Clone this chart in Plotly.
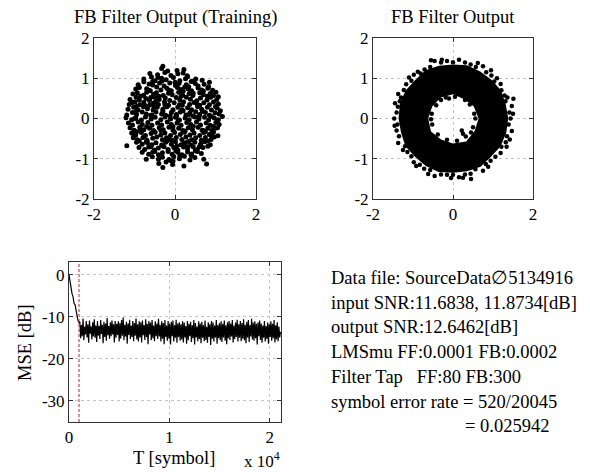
import plotly.graph_objects as go

W, H = 590, 472

# ---------------- data ----------------
# Training constellation
TRAIN_POINTS = [
    (-0.30, 1.30), (0.22, 1.22), (-0.18, 1.18), (-0.33, 1.24), (0.05, 1.19),
    (-0.62, 1.12), (-0.43, 1.09), (-0.25, 1.14), (-0.10, 1.07), (0.07, 1.11), (0.20, 1.13), (0.31, 1.04),
    (-0.77, 0.98), (-0.58, 1.03), (-0.49, 0.94), (-0.33, 1.00), (-0.22, 0.96), (-0.04, 1.02), (0.12, 0.94),
    (0.26, 0.99), (0.40, 0.92), (0.51, 0.98), (0.67, 0.95), (0.85, 0.90),
    (-0.91, 0.84), (-0.77, 0.91), (-0.64, 0.86), (-0.55, 0.83), (-0.38, 0.88), (-0.27, 0.81), (-0.13, 0.88),
    (0.01, 0.82), (0.10, 0.87), (0.28, 0.84), (0.34, 0.79), (0.50, 0.87), (0.57, 0.81), (0.72, 0.85), (0.83, 0.79),
    (-0.97, 0.73), (-0.88, 0.77), (-0.70, 0.74), (-0.61, 0.69), (-0.45, 0.78), (-0.35, 0.71), (-0.20, 0.75),
    (-0.09, 0.69), (0.06, 0.77), (0.15, 0.72), (0.32, 0.74), (0.41, 0.69), (0.57, 0.76), (0.66, 0.71),
    (0.81, 0.75), (0.93, 0.70), (1.01, 0.65),
    (-1.04, 0.61), (-0.93, 0.64), (-0.78, 0.58), (-0.70, 0.65), (-0.53, 0.60), (-0.46, 0.64), (-0.29, 0.57),
    (-0.16, 0.63), (-0.07, 0.59), (0.09, 0.65), (0.19, 0.58), (0.35, 0.62), (0.44, 0.57), (0.61, 0.64),
    (0.70, 0.59), (0.87, 0.62), (0.95, 0.57), (1.07, 0.54),
    (-1.11, 0.47), (-0.96, 0.53), (-0.88, 0.46), (-0.72, 0.50), (-0.63, 0.45), (-0.49, 0.53), (-0.39, 0.47),
    (-0.24, 0.51), (-0.13, 0.45), (0.03, 0.52), (0.12, 0.46), (0.28, 0.53), (0.38, 0.48), (0.54, 0.44),
    (0.63, 0.51), (0.79, 0.46), (0.88, 0.53), (1.03, 0.47),
    (-1.13, 0.35), (-0.99, 0.41), (-0.87, 0.34), (-0.77, 0.40), (-0.63, 0.33), (-0.53, 0.38), (-0.41, 0.35),
    (-0.26, 0.41), (-0.16, 0.33), (-0.02, 0.39), (0.11, 0.34), (0.21, 0.41), (0.36, 0.35), (0.47, 0.40),
    (0.61, 0.33), (0.71, 0.39), (0.85, 0.34), (0.95, 0.41), (1.07, 0.36),
    (-1.16, 0.23), (-1.02, 0.28), (-0.91, 0.21), (-0.78, 0.29), (-0.68, 0.24), (-0.54, 0.21), (-0.44, 0.28),
    (-0.30, 0.23), (-0.20, 0.29), (-0.05, 0.22), (0.07, 0.28), (0.17, 0.21), (0.31, 0.27), (0.41, 0.22),
    (0.56, 0.29), (0.66, 0.23), (0.80, 0.28), (0.90, 0.21), (1.04, 0.26), (1.12, 0.19),
    (-1.19, 0.09), (-1.05, 0.15), (-0.95, 0.10), (-0.81, 0.16), (-0.71, 0.11), (-0.57, 0.09), (-0.47, 0.16),
    (-0.33, 0.11), (-0.23, 0.08), (-0.09, 0.15), (0.03, 0.10), (0.13, 0.16), (0.27, 0.09), (0.37, 0.14),
    (0.51, 0.17), (0.61, 0.10), (0.75, 0.15), (0.85, 0.08), (0.99, 0.14), (1.09, 0.11),
    (-1.21, 0.02), (-1.07, -0.03), (-0.97, 0.01), (-0.83, -0.04), (-0.73, 0.04), (-0.59, -0.01), (-0.49, 0.03),
    (-0.35, -0.03), (-0.25, 0.04), (-0.11, -0.01), (0.01, 0.03), (0.11, -0.04), (0.25, 0.01), (0.35, -0.03),
    (0.49, 0.04), (0.59, -0.01), (0.73, 0.03), (0.83, -0.04), (0.97, 0.01), (1.07, -0.03), (1.17, 0.05),
    (-1.15, -0.11), (-1.05, -0.16), (-0.91, -0.09), (-0.81, -0.15), (-0.67, -0.10), (-0.57, -0.17), (-0.43, -0.11),
    (-0.33, -0.16), (-0.19, -0.09), (-0.09, -0.15), (0.05, -0.11), (0.15, -0.17), (0.29, -0.10), (0.39, -0.15),
    (0.53, -0.09), (0.63, -0.16), (0.77, -0.11), (0.87, -0.17), (1.01, -0.10), (1.09, -0.15),
    (-1.11, -0.23), (-1.01, -0.29), (-0.87, -0.22), (-0.77, -0.28), (-0.63, -0.24), (-0.53, -0.30), (-0.39, -0.23),
    (-0.29, -0.28), (-0.15, -0.22), (-0.05, -0.29), (0.09, -0.24), (0.19, -0.30), (0.33, -0.23), (0.43, -0.28),
    (0.57, -0.22), (0.67, -0.29), (0.81, -0.24), (0.91, -0.30), (1.05, -0.23),
    (-1.07, -0.36), (-0.97, -0.41), (-0.83, -0.35), (-0.73, -0.42), (-0.59, -0.37), (-0.49, -0.34), (-0.35, -0.41),
    (-0.25, -0.36), (-0.11, -0.42), (-0.01, -0.35), (0.13, -0.40), (0.23, -0.34), (0.37, -0.41), (0.47, -0.36),
    (0.61, -0.42), (0.71, -0.35), (0.85, -0.40), (0.95, -0.34), (1.06, -0.43),
    (-1.03, -0.48), (-0.93, -0.53), (-0.79, -0.47), (-0.69, -0.54), (-0.55, -0.49), (-0.45, -0.46), (-0.31, -0.53),
    (-0.21, -0.48), (-0.07, -0.54), (0.03, -0.47), (0.17, -0.52), (0.27, -0.46), (0.41, -0.53), (0.51, -0.48),
    (0.65, -0.54), (0.75, -0.47), (0.89, -0.52), (0.97, -0.46),
    (-1.19, -0.68), (-0.95, -0.59), (-0.81, -0.64), (-0.71, -0.58), (-0.57, -0.65), (-0.47, -0.60), (-0.33, -0.66),
    (-0.23, -0.59), (-0.09, -0.64), (0.01, -0.58), (0.15, -0.65), (0.25, -0.60), (0.39, -0.66), (0.49, -0.59),
    (0.63, -0.64), (0.73, -0.58), (0.87, -0.65),
    (-0.89, -0.72), (-0.75, -0.77), (-0.65, -0.71), (-0.51, -0.78), (-0.41, -0.73), (-0.27, -0.70), (-0.17, -0.77),
    (-0.03, -0.72), (0.07, -0.78), (0.21, -0.71), (0.31, -0.76), (0.45, -0.70), (0.55, -0.77), (0.69, -0.72),
    (0.81, -0.69),
    (-0.81, -0.84), (-0.65, -0.89), (-0.55, -0.83), (-0.41, -0.90), (-0.31, -0.85), (-0.17, -0.82), (-0.07, -0.89),
    (0.07, -0.84), (0.17, -0.90), (0.31, -0.83), (0.41, -0.88), (0.55, -0.82), (0.65, -0.87),
    (-0.71, -1.01), (-0.56, -0.95), (-0.41, -1.01), (-0.31, -0.96), (-0.15, -1.02), (-0.03, -0.95), (0.11, -1.00),
    (0.23, -0.94), (0.37, -1.03), (0.49, -0.97), (0.71, -1.01),
    (-0.40, -1.12), (-0.22, -1.08), (-0.05, -1.06), (0.22, -1.18), (0.78, -1.13), (-0.30, -1.22), (-0.06, -1.14),
    (0.12, -0.93), (-0.52, 0.30), (0.04, 0.06), (0.08, -0.05), (-0.12, 0.06), (0.31, -0.70), (0.22, -0.63),
    (-0.48, 0.42), (-0.60, 0.52), (0.45, 0.63), (0.60, 0.06), (-0.86, -0.26), (0.90, -0.43), (-0.32, 0.93),
    (0.24, 0.78), (-0.68, -0.60), (0.35, 0.10), (-0.15, -0.52), (0.70, -0.30), (-0.95, 0.30),
    (-0.85, 0.55), (-0.40, 0.55), (0.15, 0.55), (0.80, 0.55), (-0.95, 0.20), (-0.30, 0.18), (0.20, 0.19),
    (0.68, 0.18), (-0.70, -0.20), (-0.05, -0.20), (0.45, -0.19), (0.95, -0.20), (-0.88, -0.55), (-0.20, -0.56),
    (0.33, -0.57), (0.80, -0.56), (-0.55, 0.92), (0.00, 0.90), (0.45, 0.92), (-0.50, -0.82), (0.02, -0.80),
    (0.50, -0.80), (-1.00, 0.00), (0.90, 0.05), (-0.60, 0.08), (0.45, 0.06), (-0.75, 0.33), (0.55, 0.34),
    (-0.25, 0.34), (0.18, 0.33), (-0.35, -0.30), (0.25, -0.31), (-0.95, -0.33), (0.75, -0.33), (-0.65, 0.70),
    (0.20, 0.68), (0.70, 0.68), (-0.15, 0.70), (-0.60, -0.70), (0.05, -0.68), (0.60, -0.70), (-0.30, -0.68),
    (-1.05, 0.40), (1.00, 0.30), (-1.02, -0.40), (0.98, -0.25), (-0.42, 1.02), (0.30, 1.06), (-0.10, -1.05),
    (0.40, -0.92),
]
TRAIN_X = [p[0] for p in TRAIN_POINTS]
TRAIN_Y = [p[1] for p in TRAIN_POINTS]

# Output constellation: outline of the solid ring (outer edge, then the hole edge)
RING_OUTER_X = [1.38, 1.32, 1.20, 0.96, 0.68, 0.35, 0.00, -0.35, -0.69, -0.95, -1.19, -1.33,
                -1.36, -1.30, -1.19, -0.95, -0.68, -0.36, 0.00, 0.35, 0.69, 0.95, 1.19, 1.33, 1.38]
RING_OUTER_Y = [0.00, 0.35, 0.70, 0.96, 1.17, 1.32, 1.34, 1.31, 1.20, 0.95, 0.69, 0.36,
                0.00, -0.35, -0.69, -0.95, -1.18, -1.33, -1.35, -1.31, -1.20, -0.95, -0.69, -0.36, 0.00]
RING_INNER_X = [0.64, 0.54, 0.33, 0.00, -0.30, -0.55, -0.62, -0.52, -0.30, 0.00, 0.28, 0.52, 0.64]
RING_INNER_Y = [0.00, -0.31, -0.57, -0.62, -0.52, -0.32, 0.00, 0.30, 0.52, 0.60, 0.48, 0.30, 0.00]

# scattered points along the fuzzy edges of the ring
EDGE_POINTS = [
    (1.44, 0.00), (1.47, 0.31), (1.29, 0.57), (1.19, 0.86), (0.96, 1.07), (0.75, 1.30), (0.44, 1.34),
    (0.15, 1.46), (-0.15, 1.43), (-0.46, 1.43), (-0.71, 1.22), (-0.98, 1.09), (-1.17, 0.85), (-1.37, 0.61),
    (-1.38, 0.29), (-1.47, 0.00), (-1.41, -0.30), (-1.37, -0.61), (-1.14, -0.83), (-0.98, -1.09),
    (-0.72, -1.25), (-0.46, -1.43), (-0.15, -1.40), (0.15, -1.46), (0.44, -1.37), (0.75, -1.30),
    (0.94, -1.05), (1.19, -0.86), (1.32, -0.59), (1.47, -0.31),
    (1.41, 0.15), (1.31, 0.43), (1.21, 0.70), (1.03, 0.92), (0.83, 1.15), (0.57, 1.28), (0.30, 1.39),
    (0.00, 1.40), (-0.30, 1.39), (-0.57, 1.28), (-0.81, 1.12), (-1.04, 0.94), (-1.23, 0.71), (-1.33, 0.43),
    (-1.41, 0.15), (-1.39, -0.15), (-1.35, -0.44), (-1.20, -0.69), (-1.04, -0.94), (-0.83, -1.15),
    (-0.57, -1.28), (-0.30, -1.39), (0.00, -1.40), (0.30, -1.39), (0.56, -1.26), (0.82, -1.13),
    (1.06, -0.95), (1.21, -0.70), (1.35, -0.44), (1.39, -0.15), (1.51, 0.49), (-0.55, 1.45), (0.45, -1.50),
    (1.36, 0.52), (0.62, 1.38), (-0.28, 1.46), (-0.88, 1.16), (-1.30, 0.52), (-1.46, -0.18), (-1.25, -0.78),
    (-0.62, -1.38), (0.25, -1.47), (0.88, -1.20), (1.34, -0.70), (1.50, 0.12), (1.10, 1.00), (-1.10, 1.02),
    (-1.45, 0.38), (0.95, 1.20), (-0.05, -1.48), (1.42, -0.52), (-0.92, -1.18),
    (0.05, 0.54), (-0.18, 0.52), (0.30, 0.46), (-0.42, 0.33), (-0.53, 0.12), (-0.52, -0.15), (-0.38, -0.40),
    (0.10, -0.55), (0.32, -0.45), (0.50, -0.22), (0.53, 0.12), (0.25, -0.38), (0.22, -0.30), (-0.10, 0.50),
    (0.42, 0.35), (-0.30, 0.46), (-0.15, -0.53), (0.45, -0.35), (-0.55, -0.02), (0.56, 0.00),
]
EDGE_X = [p[0] for p in EDGE_POINTS]
EDGE_Y = [p[1] for p in EDGE_POINTS]

# MSE learning curve
MSE_DECAY_DB = [0.0, -1.8, -2.9, -4.5, -5.2, -6.8, -7.1, -8.6, -9.2, -10.9, -11.4]
MSE_STEADY_DB = [
    -11.2, -15.1, -12.0, -14.6, -10.4, -15.6, -12.4, -14.2, -11.0, -14.9, -11.8, -16.2, -10.9, -14.0, -12.3,
    -15.4, -11.3, -14.7, -10.6, -15.0, -12.1, -16.0, -11.0, -14.5, -12.2,
    -15.3, -10.8, -14.1, -11.9, -16.3, -11.2, -14.8, -11.6, -15.7, -10.3, -14.4, -12.2, -15.2, -11.3, -14.6,
    -10.9, -14.2, -11.8, -16.1, -11.0, -15.0, -11.7, -14.3, -11.1, -15.9,
    -11.5, -15.2, -10.8, -14.5, -10.2, -15.6, -11.9, -14.7, -11.2, -16.4, -11.6, -14.3, -10.7, -15.3, -12.1,
    -14.8, -11.0, -15.8, -11.5, -14.5, -10.4, -15.4, -11.8, -15.9, -11.1,
    -14.9, -11.3, -16.1, -10.9, -14.4, -12.0, -15.5, -10.6, -14.8, -11.7, -16.5, -11.0, -14.2, -11.4, -15.6,
    -10.8, -15.1, -12.1, -15.8, -11.1, -14.6, -11.6, -15.3, -10.5, -14.7,
    -11.9, -15.9, -11.1, -15.2, -11.5, -16.5, -10.8, -14.8, -12.1, -15.7, -11.0, -15.2, -11.7, -16.6, -11.2,
    -14.6, -10.9, -15.9, -12.0, -15.0, -10.7, -16.2, -11.6, -14.8, -11.3,
    -15.7, -11.8, -15.4, -11.1, -16.1, -11.4, -14.9, -12.2, -16.4, -11.0, -15.6, -11.7, -14.6, -11.2, -16.0,
    -12.0, -15.1, -10.8, -16.6, -11.5, -14.9, -12.3, -15.8, -11.1, -15.3,
    -11.6, -16.3, -11.2, -15.0, -12.0, -15.8, -10.9, -15.5, -12.4, -16.2, -11.3, -14.8, -11.8, -16.7, -11.0,
    -15.2, -11.4, -15.9, -12.1, -14.9, -10.8, -16.4, -11.9, -15.1, -11.5,
    -15.6, -11.1, -16.0, -11.7, -14.9, -10.9, -15.7, -12.0, -16.5, -11.3, -15.1, -11.0, -15.5, -11.6, -14.7,
    -10.8, -16.1, -12.1, -15.3, -11.4, -14.8, -10.7, -15.9, -11.8, -15.0,
    -11.0, -15.8, -11.5, -15.2, -10.6, -15.6, -11.9, -16.3, -11.2, -14.9, -10.8, -16.0, -12.0, -14.7, -10.5,
    -15.4, -11.4, -15.7, -11.1, -15.1, -11.7, -16.6, -11.3, -14.6, -10.9,
    -15.5, -11.6, -16.2, -12.1, -15.0, -11.0, -15.9, -12.2, -15.3, -11.4, -16.4, -11.8, -14.8, -11.1, -15.7,
    -11.7, -15.1, -10.8, -16.1, -12.0, -15.4, -11.3, -15.8, -12.3, -14.9, -13.6,
]
DECAY_STEP, STEADY_START, STEADY_STEP = 100, 1080, 80
MSE_T = [i * DECAY_STEP for i in range(len(MSE_DECAY_DB))] + \
        [STEADY_START + i * STEADY_STEP for i in range(len(MSE_STEADY_DB))]
MSE_DB = MSE_DECAY_DB + MSE_STEADY_DB
TRAIN_END = 1000

CONST_TICKS = [-2, 0, 2]
CONST_TICK_LABELS = ["-2", "0", "2"]
CONST_YTICKS = [-2, -1, 0, 1, 2]
CONST_YTICK_LABELS = ["-2", "-1", "0", "1", "2"]
MSE_XTICKS = [0, 10000, 20000]
MSE_XTICK_LABELS = ["0", "1", "2"]
MSE_YTICKS = [0, -10, -20, -30]
MSE_YTICK_LABELS = ["0", "-10", "-20", "-30"]

INFO_LINES = [
    "Data file: SourceData\u22055134916",
    "input SNR:11.6838, 11.8734[dB]",
    "output SNR:12.6462[dB]",
    "LMSmu FF:0.0001 FB:0.0002",
    "Filter Tap\u00a0\u00a0\u00a0FF:80 FB:300",
    "symbol error rate = 520/20045",
]
INFO_LAST = "= 0.025942"

# ---------------- figure ----------------
FONT = "Liberation Serif, Times New Roman, serif"
FS_TICK = 17
FS_TEXT = 18.5


def px_x(p):
    return p / W


def px_y(p):
    return 1 - p / H


fig = go.Figure()

fig.add_trace(go.Scatter(x=TRAIN_X, y=TRAIN_Y, mode="markers",
                         marker=dict(color="black", size=5), xaxis="x", yaxis="y",
                         showlegend=False, hoverinfo="skip"))

ring_x = RING_OUTER_X + RING_INNER_X
ring_y = RING_OUTER_Y + RING_INNER_Y
fig.add_trace(go.Scatter(x=ring_x, y=ring_y, mode="lines", fill="toself",
                         fillcolor="black", line=dict(width=0, color="black"),
                         xaxis="x2", yaxis="y2", showlegend=False, hoverinfo="skip"))
fig.add_trace(go.Scatter(x=EDGE_X, y=EDGE_Y, mode="markers",
                         marker=dict(color="black", size=4.5), xaxis="x2", yaxis="y2",
                         showlegend=False, hoverinfo="skip"))

fig.add_trace(go.Scatter(x=MSE_T, y=MSE_DB, mode="lines",
                         line=dict(color="black", width=1.2), xaxis="x3", yaxis="y3",
                         showlegend=False, hoverinfo="skip"))
fig.add_trace(go.Scatter(x=[TRAIN_END, TRAIN_END], y=[-35, 3], mode="lines",
                         line=dict(color="#cc2222", width=1, dash="3px,2px"),
                         xaxis="x3", yaxis="y3", showlegend=False, hoverinfo="skip"))

axis_common = dict(showline=True, linecolor="#333333", linewidth=1, mirror="ticks",
                   ticks="inside", ticklen=4, tickcolor="#333333",
                   showgrid=True, gridcolor="#c4c4c4", griddash="dot", gridwidth=1,
                   zeroline=False, tickfont=dict(family=FONT, size=FS_TICK, color="black"),
                   fixedrange=True, automargin=False)

top_y_dom = [px_y(199), px_y(38)]
layout = dict(
    width=W, height=H, margin=dict(l=0, r=0, t=0, b=0, pad=0), autosize=False,
    paper_bgcolor="white", plot_bgcolor="white", showlegend=False,
    font=dict(family=FONT, size=FS_TICK, color="black"),
    xaxis=dict(domain=[px_x(94), px_x(256)], range=[-2, 2], anchor="y",
               tickvals=CONST_TICKS, ticktext=CONST_TICK_LABELS, **axis_common),
    yaxis=dict(domain=top_y_dom, range=[-2, 2], anchor="x",
               tickvals=CONST_YTICKS, ticktext=CONST_YTICK_LABELS, **axis_common),
    xaxis2=dict(domain=[px_x(373), px_x(533)], range=[-2, 2], anchor="y2",
                tickvals=CONST_TICKS, ticktext=CONST_TICK_LABELS, **axis_common),
    yaxis2=dict(domain=top_y_dom, range=[-2, 2], anchor="x2",
                tickvals=CONST_YTICKS, ticktext=CONST_YTICK_LABELS, **axis_common),
    xaxis3=dict(domain=[px_x(69), px_x(281)], range=[0, 21130], anchor="y3",
                tickvals=MSE_XTICKS, ticktext=MSE_XTICK_LABELS, **axis_common),
    yaxis3=dict(domain=[px_y(422), px_y(262)], range=[-35, 3], anchor="x3",
                tickvals=MSE_YTICKS, ticktext=MSE_YTICK_LABELS, **axis_common),
)


def ann(text, x, y, xanchor="center", size=FS_TEXT, **kw):
    return dict(text=text, x=px_x(x), y=px_y(y), xref="paper", yref="paper",
                showarrow=False, xanchor=xanchor, yanchor="middle",
                font=dict(family=FONT, size=size, color="black"), **kw)


annotations = [
    ann("FB Filter Output (Training)", 175, 17),
    ann("FB Filter Output", 453, 17),
    ann("T [symbol]", 174, 458),
    ann("x 10<sup>4</sup>", 242, 460, xanchor="left", size=17),
    ann("MSE [dB]", 25, 343, textangle=-90),
]
line_y = [278, 303, 327, 352, 377, 402]
for txt, yy in zip(INFO_LINES, line_y):
    annotations.append(ann(txt, 329, yy, xanchor="left"))
annotations.append(ann(INFO_LAST, 463, 426, xanchor="left"))
layout["annotations"] = annotations

fig.update_layout(**layout)
fig.write_html("out.html", config={"displayModeBar": False},
               post_script="document.body.style.margin='0';document.body.style.overflow='hidden';")
